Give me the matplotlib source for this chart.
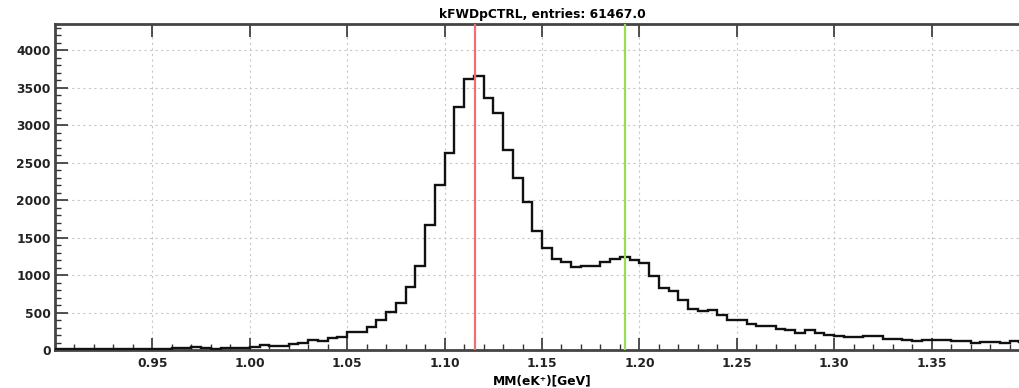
import matplotlib
matplotlib.use("Agg")
import matplotlib.pyplot as plt
from matplotlib.ticker import MultipleLocator
import numpy as np

# histogram: 100 bins of 5 MeV between 0.90 and 1.40 GeV
bin_lo = 0.90
bin_hi = 1.40
n_bins = 100
counts = [
    8, 10, 9, 11, 12, 10, 13, 12, 14, 15,
    16, 18, 22, 25, 38, 22, 20, 28, 30, 32,
    40, 70, 52, 55, 78, 95, 128, 122, 158, 175,
    240, 240, 307, 396, 507, 628, 842, 1123, 1668, 2203,
    2628, 3238, 3622, 3653, 3364, 3163, 2672, 2293, 1980, 1592,
    1356, 1209, 1180, 1105, 1120, 1125, 1175, 1215, 1245, 1205,
    1158, 985, 830, 790, 664, 545, 515, 528, 463, 400,
    398, 343, 316, 316, 280, 270, 233, 266, 227, 200,
    184, 168, 168, 184, 184, 151, 151, 128, 120, 133,
    134, 134, 120, 120, 95, 108, 108, 100, 115, 110,
]
entries = 61467.0
m_lambda = 1.115683
m_sigma0 = 1.192642

plt.rcParams["font.family"] = "DejaVu Sans"
plt.rcParams["font.weight"] = "bold"
plt.rcParams["font.size"] = 8.8

fig = plt.figure(figsize=(10.19, 3.88), dpi=100)
ax = fig.add_axes([55 / 1019, 38 / 388, 974 / 1019, 326 / 388])

edges = np.linspace(bin_lo, bin_hi, n_bins + 1)
ax.stairs(counts, edges, color="#111111", lw=1.7, zorder=3)

ax.axvline(m_lambda, color="#f07070", lw=1.6, zorder=4)
ax.axvline(m_sigma0, color="#99dd55", lw=1.6, zorder=4)

ax.set_xlim(bin_lo, bin_hi)
ax.set_ylim(0, 4350)

ax.xaxis.set_major_locator(MultipleLocator(0.05))
ax.xaxis.set_minor_locator(MultipleLocator(0.01))
ax.yaxis.set_major_locator(MultipleLocator(500))
ax.yaxis.set_minor_locator(MultipleLocator(100))
ax.set_xticks([0.95, 1.00, 1.05, 1.10, 1.15, 1.20, 1.25, 1.30, 1.35])
ax.set_xticklabels(["0.95", "1.00", "1.05", "1.10", "1.15", "1.20", "1.25", "1.30", "1.35"])

ax.tick_params(which="major", direction="in", length=9, width=1.2,
               top=True, right=False, colors="#333333", labelcolor="#222222")
ax.tick_params(which="minor", direction="in", length=4.5, width=1.0,
               top=False, right=False, colors="#333333")
ax.tick_params(axis="x", which="major", pad=5)
ax.tick_params(axis="y", which="major", pad=3)

ax.grid(True, which="major", ls=(0, (2, 3)), color="#c8c8c8", lw=0.8, zorder=0)

for side in ["left", "bottom", "top"]:
    ax.spines[side].set_linewidth(2.0)
    ax.spines[side].set_color("#444444")
ax.spines["right"].set_visible(False)

ax.set_title("kFWDpCTRL, entries: {:.1f}".format(entries), fontsize=8.8,
             fontweight="bold", pad=4)
ax.set_xlabel("MM(eK\u207a)[GeV]", fontsize=8.8, fontweight="bold", labelpad=3)

fig.savefig("out.png", dpi=100)
